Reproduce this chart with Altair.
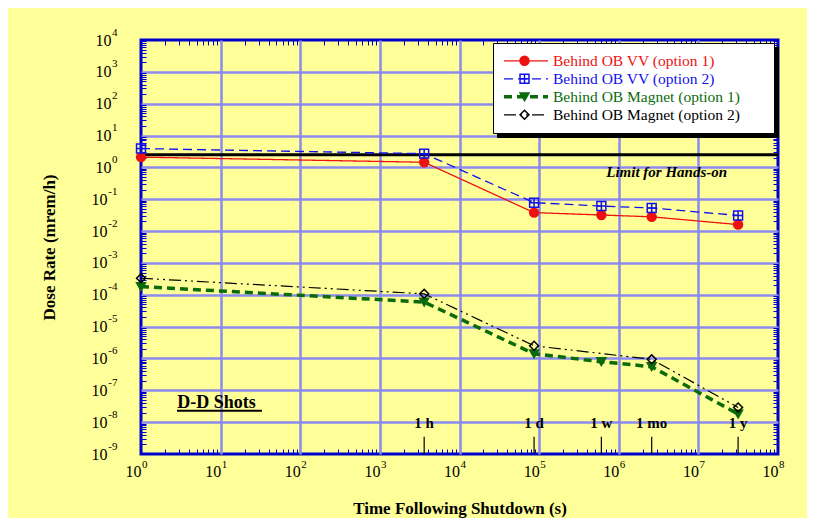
import altair as alt
import pandas as pd

# ---------------- data ----------------
S1 = "Behind OB VV (option 1)"
S2 = "Behind OB VV (option 2)"
S3 = "Behind OB Magnet (option 1)"
S4 = "Behind OB Magnet (option 2)"
names = [S1, S2, S3, S4]

times_vv1 = [1, 3600, 86400, 604800, 2592000, 31536000]
dose_vv1 = [2.1, 1.45, 0.038, 0.032, 0.028, 0.016]
times_vv2 = [1, 3600, 86400, 604800, 2592000, 31536000]
dose_vv2 = [3.9, 2.7, 0.078, 0.061, 0.053, 0.031]
times_mag1 = [1, 3600, 86400, 604800, 2592000, 31536000]
dose_mag1 = [1.8e-4, 5.9e-5, 1.4e-6, 7.9e-7, 5.5e-7, 1.8e-8]
times_mag2 = [1, 3600, 86400, 2592000, 31536000]
dose_mag2 = [3.3e-4, 1.07e-4, 2.5e-6, 9.4e-7, 2.9e-8]

limit_value = [2.5]
limit_text = ["Limit for Hands-on"]

marker_times = [3600, 86400, 604800, 2592000, 31536000]
marker_labels = ["1 h", "1 d", "1 w", "1 mo", "1 y"]

shots_text = ["D-D Shots"]

x_decades = [10.0 ** k for k in range(0, 9)]
y_decades = [10.0 ** k for k in range(-9, 5)]
x_minor = [m * 10.0 ** k for k in range(0, 8) for m in range(2, 10)]
y_minor = [m * 10.0 ** k for k in range(-9, 4) for m in range(2, 10)]

# ---------------- styles ----------------
colors = ["#ee1111", "#1111ee", "#0b6b0b", "#000000"]
dashes = [[1, 0], [9, 5], [8, 5], [12, 4, 2, 4, 2, 4]]
widths = [1.3, 1.3, 3.5, 1.2]
shapes = ["circle", "M-1,-1H1V1H-1Z M0,-1V1 M-1,0H1", "triangle-down", "diamond"]
fills = ["#ee1111", "transparent", "#0b6b0b", "transparent"]

FONT = "Liberation Serif"
BLUE = "#0000cc"
GRID = "#8a8af0"
BOX_W = 261                      # inner width of the legend box, px
BOX_SIZE = BOX_W * BOX_W

names_marker = ["m:" + n for n in names]   # marker legend (kept separate)
names_shadow = ["s:" + n for n in names]   # shadow box legend
names_box = ["b:" + n for n in names]      # white box legend

rows = []
for nm, ts, ds in [(S1, times_vv1, dose_vv1), (S2, times_vv2, dose_vv2),
                   (S3, times_mag1, dose_mag1), (S4, times_mag2, dose_mag2)]:
    for t, d in zip(ts, ds):
        rows.append({"t": t, "v": d, "series": nm, "series2": "m:" + nm,
                     "series3": "s:" + nm, "series4": "b:" + nm})
df = pd.DataFrame(rows)

limit_df = pd.DataFrame({"v": limit_value, "txt": limit_text})
marker_df = pd.DataFrame({"t": marker_times, "lab": marker_labels})
shots_df = pd.DataFrame({"txt": shots_text})

xs = alt.Scale(type="log", domain=[1, 1e8], nice=False)
ys = alt.Scale(type="log", domain=[1e-9, 1e4], nice=False)

EXP = "('' + round(log(datum.value)/LN10))"

label_color_expr = "'#000000'"
for nm, c in reversed(list(zip(names, colors))):
    label_color_expr = f"datum.value == '{nm}' ? '{c}' : " + label_color_expr
width_expr = f"datum.value == '{S3}' ? 3 : 1.3"

# "10" part of the tick labels, with grid and titles
grid_x = alt.Axis(orient="bottom", values=x_decades, labelExpr="'10'", ticks=False, domain=False,
                  grid=True, gridColor=GRID, gridWidth=2.5,
                  gridOpacity={"condition": {"test": "datum.value <= 1.5 || datum.value >= 9e7", "value": 0}, "value": 1},
                  labelFont=FONT, labelFontSize=16, labelPadding=9, labelColor="black", labelAlign="right",
                  labelFlush=False, labelOverlap=False,
                  title="Time Following Shutdown (s)", titleFont=FONT, titleFontSize=17,
                  titleFontWeight="bold", titleColor="black", titlePadding=21)
grid_y = alt.Axis(orient="left", values=y_decades, labelExpr="'10'", ticks=False, domain=False,
                  grid=True, gridColor=GRID, gridWidth=2.3,
                  gridOpacity={"condition": {"test": "datum.value <= 1.5e-9 || datum.value >= 9e3", "value": 0}, "value": 1},
                  labelFont=FONT, labelFontSize=16, labelColor="black",
                  labelPadding={"condition": {"test": "datum.value < 0.5", "value": 34}, "value": 30},
                  labelFlush=False, labelOverlap=False,
                  title="Dose Rate (mrem/h)", titleFont=FONT, titleFontSize=17,
                  titleFontWeight="bold", titleColor="black", titlePadding=33)

# exponent part of the tick labels
exp_x = alt.Axis(orient="bottom", values=x_decades, labelExpr=EXP, ticks=False, domain=False, grid=False,
                 labelFont=FONT, labelFontSize=11, labelPadding=4, labelColor="black", labelAlign="left",
                 labelOffset=0.5, labelFlush=False, labelOverlap=False, title=None)
exp_y = alt.Axis(orient="left", values=y_decades, labelExpr=EXP, ticks=False, domain=False, grid=False,
                 labelFont=FONT, labelFontSize=11, labelPadding=24, labelColor="black", labelAlign="right",
                 labelOffset=-8, labelFlush=False, labelOverlap=False, title=None)


def tick_axis(orient, vals):
    return alt.Axis(orient=orient, values=vals, offset=-5, tickSize=5, tickColor=BLUE, tickWidth=1,
                    labels=False, domain=False, grid=False, title=None)


# black drop shadow (no text)
legC = alt.Legend(orient="none", legendX=356, legendY=7, title=None, direction="vertical",
                  symbolType="stroke", symbolSize=BOX_SIZE, clipHeight=17.6, rowPadding=0, padding=9,
                  labelOffset=0, labelExpr="''", symbolStrokeColor="black",
                  fillColor="black", strokeColor="black", zindex=0)
# white legend box (no text)
legD = alt.Legend(orient="none", legendX=352, legendY=3, title=None, direction="vertical",
                  symbolType="stroke", clipHeight=17.6, rowPadding=0, padding=9,
                  labelOffset=0, labelExpr="''", symbolOpacity=0, symbolStrokeColor="white",
                  fillColor="white", strokeColor="black", zindex=1)
# legend lines + coloured labels
legA = alt.Legend(orient="none", legendX=352, legendY=3, title=None, direction="vertical",
                  symbolType="stroke", symbolSize=1936, clipHeight=17.6, rowPadding=0, padding=9,
                  labelOffset=3, labelFont=FONT, labelFontSize=15.5, labelLimit=400,
                  labelColor={"expr": label_color_expr},
                  symbolStrokeWidth={"expr": width_expr}, zindex=2)
# marker symbols laid over the legend lines
legB = alt.Legend(orient="none", legendX=369, legendY=3, title=None, direction="vertical",
                  symbolSize=80, clipHeight=17.6, rowPadding=0, padding=9, labelExpr="''",
                  symbolStrokeWidth=1.5, zindex=3)

limit_rule = alt.Chart(limit_df).mark_rule(color="black", strokeWidth=3).encode(
    y=alt.Y("v:Q", scale=ys, axis=None)
)

lines = alt.Chart(df).mark_line().encode(
    x=alt.X("t:Q", scale=xs, axis=grid_x),
    y=alt.Y("v:Q", scale=ys, axis=grid_y),
    color=alt.Color("series:N", scale=alt.Scale(domain=names, range=colors), legend=legA),
    strokeDash=alt.StrokeDash("series:N", scale=alt.Scale(type="ordinal", domain=names, range=dashes), legend=legA),
    strokeWidth=alt.StrokeWidth("series:N", scale=alt.Scale(type="ordinal", domain=names, range=widths), legend=None),
    opacity=alt.Opacity("series3:N", scale=alt.Scale(type="ordinal", domain=names_shadow, range=[1, 1, 1, 1]), legend=legC),
)

points = alt.Chart(df).mark_point(opacity=1, size=80, strokeWidth=1.5).encode(
    x=alt.X("t:Q", scale=xs, axis=tick_axis("bottom", x_minor)),
    y=alt.Y("v:Q", scale=ys, axis=tick_axis("left", y_minor)),
    stroke=alt.Stroke("series2:N", scale=alt.Scale(domain=names_marker, range=colors), legend=legB),
    fill=alt.Fill("series2:N", scale=alt.Scale(domain=names_marker, range=fills), legend=legB),
    shape=alt.Shape("series2:N", scale=alt.Scale(domain=names_marker, range=shapes), legend=legB),
)

tick_carrier = alt.Chart(df).mark_point(opacity=0).encode(
    x=alt.X("t:Q", scale=xs, axis=tick_axis("top", x_minor)),
    y=alt.Y("v:Q", scale=ys, axis=tick_axis("right", y_minor)),
    size=alt.Size("series4:N", scale=alt.Scale(type="ordinal", domain=names_box, range=[BOX_SIZE] * 4), legend=legD),
)

exp_carrier = alt.Chart(df).mark_point(opacity=0).encode(
    x=alt.X("t:Q", scale=xs, axis=exp_x),
    y=alt.Y("v:Q", scale=ys, axis=exp_y),
)

limit_label = alt.Chart(limit_df).mark_text(font=FONT, fontSize=15, fontWeight="bold", fontStyle="italic",
                                            color="black", align="center", baseline="middle").encode(
    x=alt.XDatum(4e6, axis=None),
    y=alt.YDatum(0.7, axis=None),
    text="txt:N",
)

marker_rules = alt.Chart(marker_df).mark_rule(color="black", strokeWidth=1.2).encode(
    x=alt.X("t:Q", scale=xs, axis=None),
    y=alt.YDatum(1e-9, axis=None),
    y2=alt.Y2Datum(3.5e-9),
)
marker_text = alt.Chart(marker_df).mark_text(font=FONT, fontSize=15, fontWeight="bold", color="black",
                                             align="center", baseline="middle").encode(
    x=alt.X("t:Q", scale=xs, axis=None),
    y=alt.YDatum(9.5e-9, axis=None),
    text="lab:N",
)

shots_label = alt.Chart(shots_df).mark_text(font=FONT, fontSize=18, fontWeight="bold", color="black",
                                            align="center", baseline="middle").encode(
    x=alt.XDatum(8.9, axis=None),
    y=alt.YDatum(4e-8, axis=None),
    text="txt:N",
)
shots_underline = alt.Chart(shots_df).mark_rule(color="black", strokeWidth=2).encode(
    x=alt.XDatum(2.83, axis=None),
    x2=alt.X2Datum(33),
    y=alt.YDatum(2.3e-8, axis=None),
)

chart = alt.layer(
    limit_rule, lines, points, tick_carrier, exp_carrier, limit_label, marker_rules, marker_text,
    shots_label, shots_underline
).resolve_axis(
    x="independent", y="independent"
).properties(
    width=637, height=414,
    padding={"left": 133, "top": 32, "right": 29, "bottom": 64},
    autosize=alt.AutoSizeParams(type="none"),
).configure(
    background="#FFFF99", font=FONT
).configure_view(
    stroke=BLUE, strokeWidth=3
)

chart.save("out.html", embed_options={"renderer": "svg", "actions": False})
